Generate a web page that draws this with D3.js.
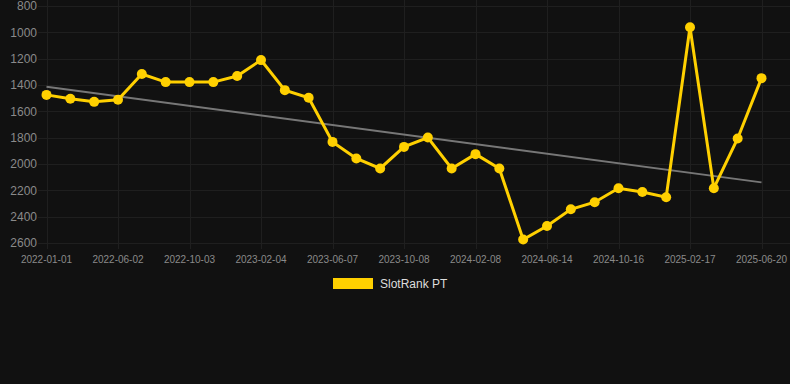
<!DOCTYPE html>
<html>
<head>
<meta charset="utf-8">
<script src="https://cdn.jsdelivr.net/npm/d3@7"></script>
<style>
    body { margin: 0; background: #111111; }
    svg { display: block; font-family: "Liberation Sans", Arial, sans-serif; }
    .grid line { stroke: #1f1f1f; stroke-width: 1; }
    .tick-y, .tick-x { fill: #8a8a8a; }
</style>
</head>
<body>
<svg id="svg" width="790" height="384"></svg>
<script>
// categories (every third one is shown on the axis)
var dates = [
    '2022-01-01', '2022-02-20', '2022-04-11', '2022-06-02', '2022-07-13', '2022-08-23',
    '2022-10-03', '2022-11-13', '2022-12-25', '2023-02-04', '2023-03-17', '2023-04-27',
    '2023-06-07', '2023-07-18', '2023-08-28', '2023-10-08', '2023-11-18', '2023-12-29',
    '2024-02-08', '2024-03-20', '2024-05-02', '2024-06-14', '2024-07-25', '2024-09-04',
    '2024-10-16', '2024-11-26', '2025-01-07', '2025-02-17', '2025-03-30', '2025-05-10',
    '2025-06-20'
];

var rank = [
    1475, 1505, 1528, 1512, 1317, 1378, 1378, 1378, 1332, 1211, 1439, 1497,
    1832, 1958, 2034, 1870, 1799, 2034, 1925, 2034, 2574, 2471, 2344, 2290,
    2184, 2212, 2252, 962, 2184, 1806, 1348
];

var yTicks = [800, 1000, 1200, 1400, 1600, 1800, 2000, 2200, 2400, 2600];
var seriesName = 'SlotRank PT';

var width = 790, height = 384,
    plotLeft = 38, plotRight = 790,
    lineColor = '#ffd000';

var $svg = d3.select('#svg');

var x = d3.scalePoint()
    .domain(d3.range(dates.length))
    .range([46.5, 761.5]);

var y = d3.scaleLinear()
    .domain([800, 2600])
    .range([6, 243]);

// grid
var $grid = $svg.append('g').classed('grid', true);

$grid.selectAll('line.h')
    .data(yTicks)
    .enter()
    .append('line')
    .attr('class', 'h')
    .attr('x1', plotLeft)
    .attr('x2', plotRight)
    .attr('y1', function (d) { return Math.round(y(d)) + 0.5; })
    .attr('y2', function (d) { return Math.round(y(d)) + 0.5; });

var shown = d3.range(0, dates.length, 3);

$grid.selectAll('line.v')
    .data(shown)
    .enter()
    .append('line')
    .attr('class', 'v')
    .attr('x1', function (i) { return Math.round(x(i)) + 0.5; })
    .attr('x2', function (i) { return Math.round(x(i)) + 0.5; })
    .attr('y1', 0)
    .attr('y2', 249);

// y labels
$svg.append('g')
    .selectAll('text')
    .data(yTicks)
    .enter()
    .append('text')
    .attr('class', 'tick-y')
    .attr('x', 37)
    .attr('y', function (d) { return y(d); })
    .attr('dy', '0.35em')
    .attr('text-anchor', 'end')
    .style('font-size', '12px')
    .text(function (d) { return d; });

// x labels
$svg.append('g')
    .selectAll('text')
    .data(shown)
    .enter()
    .append('text')
    .attr('class', 'tick-x')
    .attr('x', function (i) { return x(i); })
    .attr('y', 263)
    .attr('text-anchor', 'middle')
    .style('font-size', '10px')
    .text(function (i) { return dates[i]; });

// trend line (least squares over index)
var n = rank.length,
    mx = d3.mean(d3.range(n)),
    my = d3.mean(rank),
    sxy = d3.sum(rank, function (v, i) { return (i - mx) * (v - my); }),
    sxx = d3.sum(d3.range(n), function (i) { return (i - mx) * (i - mx); }),
    slope = sxy / sxx,
    icpt = my - slope * mx;

$svg.append('line')
    .attr('x1', x(0))
    .attr('y1', y(icpt))
    .attr('x2', x(n - 1))
    .attr('y2', y(icpt + slope * (n - 1)))
    .attr('stroke', '#777777')
    .attr('stroke-width', 2);

// series
var line = d3.line()
    .x(function (d, i) { return x(i); })
    .y(function (d) { return y(d); });

$svg.append('path')
    .datum(rank)
    .attr('d', line)
    .attr('fill', 'none')
    .attr('stroke', lineColor)
    .attr('stroke-width', 3)
    .attr('stroke-linejoin', 'miter');

$svg.append('g')
    .selectAll('circle')
    .data(rank)
    .enter()
    .append('circle')
    .attr('cx', function (d, i) { return x(i); })
    .attr('cy', function (d) { return y(d); })
    .attr('r', 5)
    .attr('fill', lineColor);

// legend
var $legend = $svg.append('g').attr('transform', 'translate(333,278)');
$legend.append('rect')
    .attr('width', 40)
    .attr('height', 11)
    .attr('fill', lineColor);
$legend.append('text')
    .attr('x', 47)
    .attr('y', 6)
    .attr('dy', '0.35em')
    .style('font-size', '12px')
    .attr('fill', '#dddddd')
    .text(seriesName);
</script>
</body>
</html>
